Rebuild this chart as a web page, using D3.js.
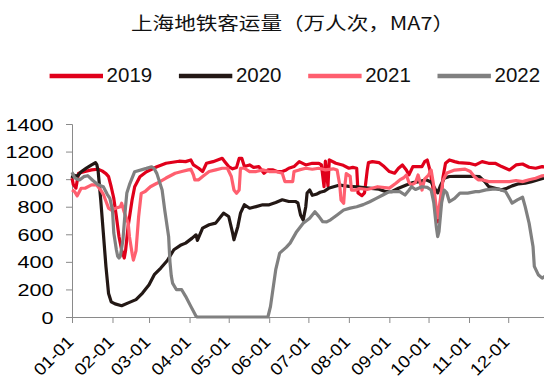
<!DOCTYPE html>
<html>
<head>
<meta charset="utf-8">
<script src="https://cdn.jsdelivr.net/npm/d3@7"></script>
<style>
  body { margin: 0; background: #fff; }
  svg { display: block; }
</style>
</head>
<body>
<svg id="svg" width="544" height="383"></svg>
<script>

// day-of-year (0 = 01-01) , MA7 value (万人次)
var s2019 = [[0,1007],[1,960],[3,935],[5,1043],[10,1055],[15,1067],[20,1072],[23,1060],[26,1040],[28,1018],
  [30,945],[32,860],[34,727],[36,582],[38,486],[40,428],[41,480],[43,660],[46,849],[48,945],
  [52,1018],[57,1054],[65,1090],[72,1115],[82,1130],[87,1127],[91,1139],[93,1103],[97,1079],[100,1055],
  [103,1115],[108,1127],[115,1151],[117,1127],[120,1091],[123,1075],[126,1085],[128,1151],[130,1151],[132,1091],
  [136,1103],[139,1085],[143,1091],[147,1043],[150,1067],[154,1067],[157,1055],[161,1055],[164,1067],[166,1079],
  [170,1091],[174,1127],[179,1103],[184,1115],[189,1115],[191,1103],[193,945],[194,1130],[196,950],[197,1140],
  [202,1115],[207,1103],[212,1079],[215,1085],[218,1079],[219,900],[222,880],[224,900],[226,1060],[227,1120],
  [230,1127],[235,1120],[239,1091],[243,1055],[247,1043],[250,1079],[253,1103],[256,1067],[258,1031],[261,1091],
  [264,1091],[268,1091],[270,1127],[272,1139],[274,1067],[276,960],[278,820],[280,690],[282,790],[284,1010],
  [286,1115],[289,1139],[293,1127],[296,1120],[304,1115],[309,1103],[314,1127],[319,1115],[324,1115],[329,1091],
  [335,1067],[340,1103],[345,1110],[350,1086],[355,1079],[360,1091],[364,1085]];

var s2020 = [[0,1007],[1,1030],[4,1020],[7,1054],[11,1080],[15,1103],[18,1119],[19,1105],[20,1060],[22,849],
  [24,609],[26,365],[28,170],[30,110],[33,95],[38,82],[44,106],[49,126],[54,174],[59,234],
  [63,307],[68,355],[73,410],[78,488],[83,520],[87,536],[92,572],[95,596],[96,555],[97,577],
  [100,645],[105,669],[110,681],[114,729],[116,753],[120,729],[123,608],[124,560],[127,657],[129,753],
  [132,814],[136,789],[141,801],[146,814],[151,814],[156,830],[161,850],[166,838],[171,838],[173,827],
  [175,740],[177,703],[179,800],[180,899],[182,921],[184,883],[187,890],[190,905],[193,912],[197,936],
  [205,957],[212,948],[218,945],[227,935],[235,927],[240,910],[245,910],[250,934],[256,958],[261,975],
  [266,982],[271,995],[275,980],[278,930],[280,900],[282,950],[285,1007],[289,1019],[294,1020],[302,1020],
  [307,1020],[312,1019],[316,982],[319,946],[324,934],[329,922],[333,934],[337,951],[342,966],[347,970],
  [352,982],[357,995],[361,1007],[364,1010]];

var s2021 = [[0,922],[2,910],[4,879],[7,934],[10,934],[15,958],[19,958],[22,920],[24,890],[26,840],
  [28,790],[30,776],[34,790],[37,800],[38,825],[40,760],[43,680],[44,582],[46,462],[47,413],
  [49,480],[51,727],[53,897],[56,910],[60,945],[65,970],[72,1008],[79,1043],[84,1055],[89,1067],
  [91,1072],[93,1030],[94,995],[97,995],[100,1019],[105,1055],[110,1067],[115,1079],[119,1079],[122,1019],
  [124,922],[126,898],[128,922],[129,1079],[132,1079],[136,1055],[141,1055],[146,1067],[151,1055],[156,1055],
  [161,1043],[163,982],[169,982],[170,1055],[174,1067],[179,1079],[184,1072],[189,1079],[194,1067],[200,1075],
  [203,1066],[205,958],[206,849],[208,825],[209,958],[210,1040],[213,1020],[214,921],[217,921],[220,932],
  [226,925],[234,945],[243,935],[248,970],[251,994],[254,1010],[256,1030],[258,975],[260,958],[263,975],
  [265,1030],[267,960],[268,921],[270,1000],[273,1030],[275,1066],[277,950],[279,780],[280,720],[282,850],
  [284,990],[287,1045],[293,1066],[301,1073],[305,1055],[308,1019],[311,995],[314,995],[319,982],[324,982],
  [329,982],[335,982],[340,990],[345,982],[350,995],[355,1007],[360,1024],[364,1030]];

var s2022 = [[0,1050],[2,1010],[4,1000],[6,995],[9,1018],[12,1025],[16,990],[20,960],[24,945],[27,890],
  [29,860],[31,776],[32,609],[34,486],[35,440],[36,428],[37,440],[39,558],[41,800],[42,900],
  [44,960],[48,1054],[57,1078],[61,1090],[63,1075],[65,1040],[69,921],[71,776],[74,582],[75,400],
  [76,300],[77,246],[80,198],[84,198],[87,150],[91,77],[95,5],[96,0],[150,0],[152,77],
  [156,343],[159,463],[164,505],[167,536],[172,619],[177,680],[182,717],[186,764],[189,730],[192,691],
  [195,690],[198,705],[203,740],[208,776],[213,790],[218,800],[223,815],[228,836],[233,860],[238,885],
  [243,909],[248,910],[251,909],[255,885],[258,920],[260,945],[263,925],[268,945],[272,940],[275,921],
  [277,830],[279,650],[280,583],[281,620],[283,827],[285,920],[287,900],[289,836],[293,860],[297,899],
  [303,899],[309,909],[312,910],[317,922],[322,927],[327,927],[332,910],[337,826],[341,850],[345,869],
  [347,801],[350,681],[353,512],[354,367],[357,307],[360,282],[362,295]];

var seriesNames = ["2019", "2020", "2021", "2022"];
var seriesColors = ["#e0001b", "#231815", "#ff5f6f", "#808080"];
var monthStarts = [0, 31, 59, 90, 120, 151, 181, 212, 243, 273, 304, 334];
var monthLabels = ["01-01","02-01","03-01","04-01","05-01","06-01","07-01","08-01","09-01","10-01","11-01","12-01"];
var yTicks = [0, 200, 400, 600, 800, 1000, 1200, 1400];
var title = "上海地铁客运量（万人次，MA7）";

var allSeries = [s2019, s2020, s2021, s2022];

var svg = d3.select("#svg");
var numFont = "'Liberation Sans', Arial, sans-serif";

var xScale = d3.scaleLinear()
    .domain([0, 364])
    .range([72, 72 + 364 * 1.306]);

var yScale = d3.scaleLinear()
    .domain([0, 1400])
    .range([317, 124]);

// title
svg.append("text")
    .attr("x", 131)
    .attr("y", 29.5)
    .attr("textLength", 323)
    .attr("lengthAdjust", "spacingAndGlyphs")
    .style("font-family", "'Noto Sans CJK SC', sans-serif")
    .style("font-size", "18px")
    .style("fill", "#111")
    .text(title);

// legend
var legend = svg.append("g");
seriesNames.forEach(function (name, i) {
    var x0 = 49.6 + i * 129.3;
    legend.append("line")
        .attr("x1", x0).attr("x2", x0 + 53.4)
        .attr("y1", 76).attr("y2", 76)
        .attr("stroke", seriesColors[i])
        .attr("stroke-width", 4.5);
    legend.append("text")
        .attr("x", x0 + 57)
        .attr("y", 82.3)
        .style("font-family", numFont)
        .style("font-size", "20.5px")
        .style("fill", "#111")
        .text(name);
});

// axes
var yAxis = svg.append("g")
    .attr("transform", "translate(72,0)")
    .call(d3.axisLeft(yScale).tickValues(yTicks).tickSize(6).tickFormat(function (d) { return d; }));
yAxis.selectAll("text")
    .attr("x", -14.6)
    .attr("dy", "0.36em")
    .attr("transform", "scale(1.27,1)")
    .style("font-family", numFont)
    .style("font-size", "17px")
    .style("fill", "#000");

var xAxis = svg.append("g")
    .attr("transform", "translate(0,317)")
    .call(d3.axisBottom(xScale).tickValues(monthStarts).tickSize(6).tickFormat(function (d, i) { return monthLabels[i]; }));
xAxis.select(".domain").attr("d", "M72.5,0.5H544");
xAxis.selectAll("text")
    .attr("x", 0).attr("y", 0).attr("dy", 0)
    .style("text-anchor", "end")
    .attr("transform", "translate(2,26) rotate(-45) scale(1.1,1)")
    .style("font-family", numFont)
    .style("font-size", "17px")
    .style("fill", "#000");

svg.selectAll(".domain, .tick line").attr("stroke", "#8a8a8a");

// lines
var line = d3.line()
    .x(function (d) { return xScale(d[0]); })
    .y(function (d) { return yScale(d[1]); });

svg.append("g").selectAll("path")
    .data(allSeries)
    .enter()
    .append("path")
    .attr("d", line)
    .attr("fill", "none")
    .attr("stroke", function (d, i) { return seriesColors[i]; })
    .attr("stroke-width", 3.2)
    .attr("stroke-linejoin", "round");

</script>
</body>
</html>
